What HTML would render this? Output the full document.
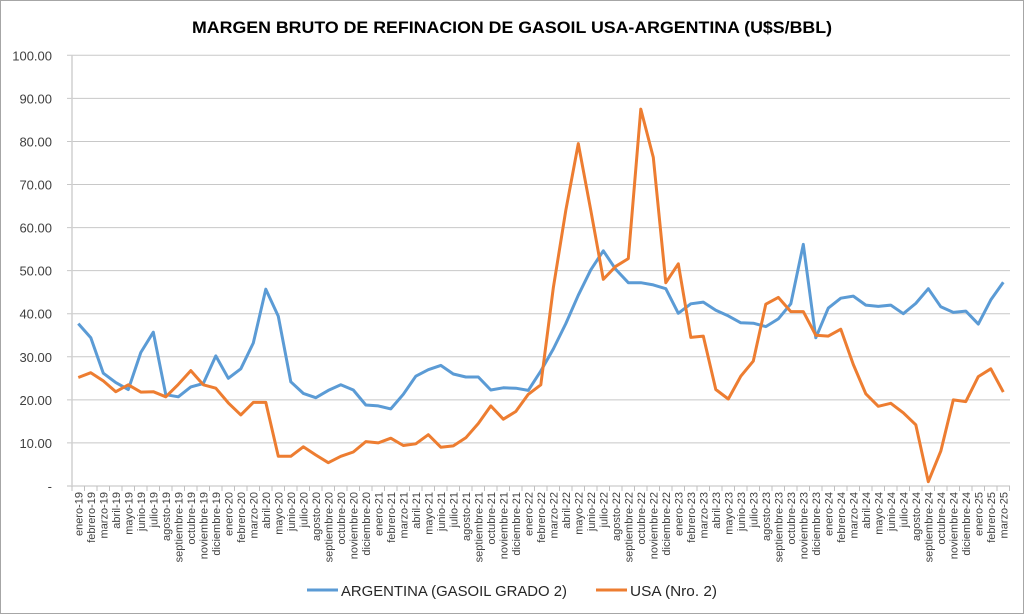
<!DOCTYPE html>
<html><head><meta charset="utf-8">
<style>
html,body{margin:0;padding:0;background:#fff;}
svg{display:block;font-family:"Liberation Sans",sans-serif;}
</style></head>
<body>
<svg id="c" width="1024" height="615" xmlns="http://www.w3.org/2000/svg">
<rect x="0.5" y="0.5" width="1023" height="613" fill="#fff" stroke="#a6a6a6"/>
<text x="512" y="33" text-anchor="middle" font-size="17" font-weight="bold" fill="#000" textLength="640" lengthAdjust="spacingAndGlyphs">MARGEN BRUTO DE REFINACION DE GASOIL USA-ARGENTINA (U$S/BBL)</text>
<g id="grid"></g>
<g id="xl"></g>
<polyline id="arg" fill="none" stroke="#5b9bd5" stroke-width="3" stroke-linejoin="round"/>
<polyline id="usa" fill="none" stroke="#ed7d31" stroke-width="3" stroke-linejoin="round"/>
<line x1="307" y1="590" x2="338" y2="590" stroke="#5b9bd5" stroke-width="3"/>
<text x="341" y="596" font-size="15" fill="#262626" textLength="226" lengthAdjust="spacingAndGlyphs">ARGENTINA (GASOIL GRADO 2)</text>
<line x1="596" y1="590" x2="627" y2="590" stroke="#ed7d31" stroke-width="3"/>
<text x="630" y="596" font-size="15" fill="#262626" textLength="87" lengthAdjust="spacingAndGlyphs">USA (Nro. 2)</text>
</svg>
<script>
var ns="http://www.w3.org/2000/svg";
var y0=486,k=4.307,x0=72,w=12.5;
function Y(v){return y0-v*k;}
var g=document.getElementById("grid"),s="";
for(var i=0;i<=10;i++){var y=Y(i*10);
 if(i>0)s+='<line x1="67" x2="1010" y1="'+y+'" y2="'+y+'" stroke="#c8c8c8" stroke-width="1"/>';
 s+='<text x="52" y="'+(y+5)+'" text-anchor="end" font-size="13" fill="#404040">'+(i==0?'-':(i*10).toFixed(2))+'</text>';}
s+='<line x1="67" x2="1010" y1="'+y0+'" y2="'+y0+'" stroke="#bfbfbf"/>';
s+='<line x1="72" x2="72" y1="55" y2="'+y0+'" stroke="#d0d0d0" stroke-width="1.5"/>';
for(var i=0;i<=75;i++){var x=x0+i*w;s+='<line x1="'+x+'" x2="'+x+'" y1="'+y0+'" y2="'+(y0+5)+'" stroke="#bfbfbf"/>';}
g.innerHTML=s;
var m=["enero","febrero","marzo","abril","mayo","junio","julio","agosto","septiembre","octubre","noviembre","diciembre"];
var xl="";
for(var i=0;i<75;i++){var x=x0+w/2+i*w;var lab=m[i%12]+"-"+(19+Math.floor(i/12));
 xl+='<text transform="translate('+(x+4)+',492) rotate(-90)" text-anchor="end" font-size="11" fill="#404040">'+lab+'</text>';}
document.getElementById("xl").innerHTML=xl;
var A=[37.7,34.4,26.2,24,22.4,31,35.7,21.2,20.7,23,23.8,30.2,25,27.2,33.2,45.7,39.4,24.2,21.5,20.5,22.2,23.5,22.3,18.8,18.6,17.9,21.3,25.5,27,28,26,25.3,25.3,22.3,22.8,22.7,22.2,26.7,31.8,37.7,44.3,50.2,54.6,50.3,47.2,47.2,46.7,45.8,40.1,42.3,42.7,40.8,39.5,37.9,37.8,37,38.8,42.3,56.1,34.4,41.3,43.6,44.1,42,41.7,42,40,42.4,45.8,41.6,40.3,40.6,37.6,43.2,47.3];
var U=[25.2,26.3,24.4,21.9,23.5,21.8,21.9,20.7,23.6,26.8,23.5,22.7,19.3,16.5,19.4,19.4,6.9,6.9,9.1,7.2,5.4,6.9,7.9,10.3,10,11.1,9.4,9.8,11.9,9,9.3,11.2,14.5,18.6,15.5,17.3,21.3,23.5,46,64,79.5,64,48,51,52.8,87.5,76.3,47.2,51.6,34.5,34.8,22.4,20.2,25.5,29,42.2,43.8,40.5,40.5,35,34.8,36.4,28.2,21.4,18.5,19.2,17,14.2,1,8.1,20,19.6,25.4,27.2,21.8];
function pts(a){return a.map(function(v,i){return (x0+w/2+i*w).toFixed(1)+","+Y(v).toFixed(1);}).join(" ");}
document.getElementById("arg").setAttribute("points",pts(A));
document.getElementById("usa").setAttribute("points",pts(U));
</script>
</body></html>
